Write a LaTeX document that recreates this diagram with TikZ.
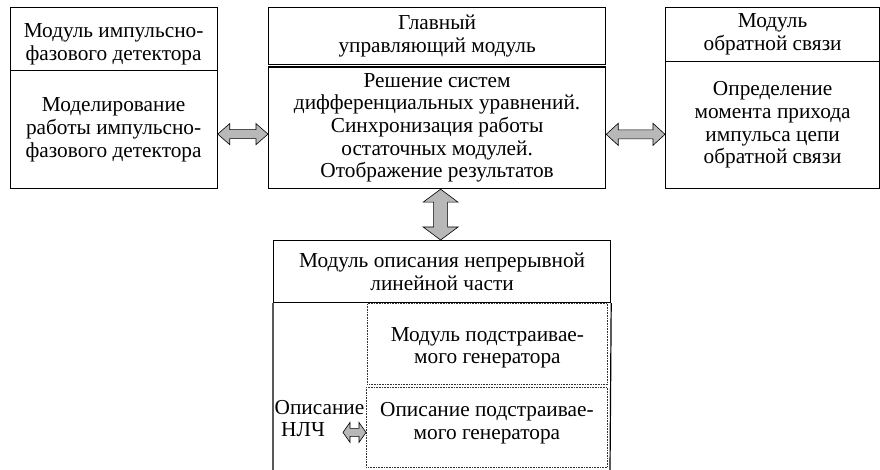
\documentclass[tikz,border=0pt]{standalone}
\usepackage{fontspec}
\setmainfont{Liberation Serif}
\usetikzlibrary{calc}
\newcommand\fsz{\fontsize{21.3}{22.7}\selectfont}
\tikzset{
  box/.style={draw, line width=1.2pt, inner sep=0pt, align=center, anchor=north west, font=\fsz},
  dbox/.style={draw=black!80, line width=0.8pt, dash pattern=on 0.8pt off 0.8pt, inner sep=0pt, align=center, anchor=north west, font=\fsz},
  lbl/.style={inner sep=0pt, font=\fontsize{21.3}{21.5}\selectfont, anchor=north west, align=left},
  blockarrow/.style={draw=black, line width=0.6pt, fill=black!28, line join=miter}
}
\newcommand\dblarr[6]{%
  \coordinate (#6p) at ($(#1)!#5!(#2)$);
  \coordinate (#6q) at ($(#2)!#5!(#1)$);
  \path[blockarrow] (#1) -- ($(#6p)!#3!90:(#2)$) -- ($(#6p)!#4!90:(#2)$)
    -- ($(#6q)!#4!-90:(#1)$) -- ($(#6q)!#3!-90:(#1)$) -- (#2)
    -- ($(#6q)!#3!90:(#1)$) -- ($(#6q)!#4!90:(#1)$)
    -- ($(#6p)!#4!-90:(#2)$) -- ($(#6p)!#3!-90:(#2)$) -- cycle;
}
\begin{document}
\begin{tikzpicture}[x=1pt,y=-1pt]
\useasboundingbox (0,0) rectangle (880,470);
% left module
\node[box, minimum width=207pt, minimum height=63pt] (lh) at (9.5,7) {\rule{0pt}{24pt}Модуль импульсно-\\фазового детектора};
\node[box, minimum width=207pt, minimum height=118pt] (lb) at (9.5,70) {Моделирование\\работы импульсно-\\фазового детектора};
% central module
\node[box, minimum width=337pt, minimum height=57pt] (ch) at (268,7) {Главный\\управляющий модуль};
\node[box, minimum width=337pt, minimum height=121.5pt] (cb) at (268,66.5) {Решение систем\\дифференциальных уравнений.\\Синхронизация работы\\остаточных модулей.\\Отображение результатов};
% right module
\node[box, minimum width=214pt, minimum height=54pt] (rh) at (665,7) {Модуль\\обратной связи};
\node[box, minimum width=214pt, minimum height=127pt] (rb) at (665,61) {Определение\\момента прихода\\импульса цепи\\обратной связи};
% bottom module
\node[box, minimum width=337pt, minimum height=62pt] (bh) at (273,240) {Модуль описания непрерывной\\линейной части};
\coordinate (bl) at (273,470);
\coordinate (br) at (610,470);
\draw[line width=1.2pt] (bh.south west) -- (bl) (bh.south east) -- (br);
\node[dbox, minimum width=240pt, minimum height=81pt] (d1) at (367,303) {\rule{0pt}{22pt}Модуль подстраивае-\\мого генератора};
\node[dbox, minimum width=241pt, minimum height=80pt] (d2) at (366,387) {Описание подстраивае-\\мого генератора\rule[-12.5pt]{0pt}{1pt}};
\node[lbl] (t1) at (274.5,400.5) {Описание\\\hspace*{6.5pt}НЛЧ};
% arrows
\coordinate (a1) at ($(lb.east)+(0,4.5)$);
\coordinate (a2) at (cb.west |- a1);
\dblarr{a1}{a2}{10.5pt}{4.5pt}{12pt}{ar1}
\coordinate (a3) at ($(cb.east)+(0,6.5)$);
\coordinate (a4) at (rb.west |- a3);
\dblarr{a3}{a4}{11pt}{4.5pt}{12pt}{ar2}
\coordinate (a5) at ($(cb.south)+(3.5,0)$);
\coordinate (a6) at (a5 |- bh.north);
\dblarr{a5}{a6}{17.5pt}{7pt}{13pt}{ar3}
\coordinate (a8) at ($(d2.west)+(0,5)$);
\coordinate (a7) at ($(a8)+(-23,0)$);
\dblarr{a7}{a8}{10pt}{4pt}{7pt}{ar4}
\end{tikzpicture}
\end{document}
